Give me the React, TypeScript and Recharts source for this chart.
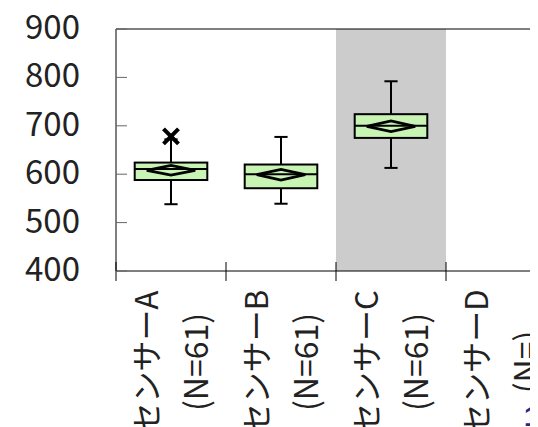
import React from 'react';
import { ComposedChart, Bar, Scatter, XAxis, YAxis, ReferenceArea, ReferenceLine } from 'recharts';

const categories = ['センサーA', 'センサーB', 'センサーC', 'センサーD'];
const sampleCounts = ['61', '61', '61', ''];
const whiskerLow = [538, 539, 613, null];
const q1Values = [588, 571, 675, null];
const medianValues = [611, 600, 700, null];
const q3Values = [624, 620, 724, null];
const whiskerHigh = [672, 677, 792, null];
const meanValues = [608, 599, 699, null];
const meanCILow = [598, 588, 688, null];
const meanCIHigh = [618, 610, 710, null];
const outlierValues = [678, null, null, null];
const yTicks = [400, 500, 600, 700, 800, 900];
const highlightCategory = 'センサーC';
const pageNumber = '1';

const FONT = "'Noto Sans CJK JP', 'Noto Sans', sans-serif";
const BOX_FILL = '#c9f5b4';

const data = categories.map((c, i) => ({
  name: c,
  n: sampleCounts[i],
  range: whiskerLow[i] == null ? null : [whiskerLow[i], whiskerHigh[i]],
  lo: whiskerLow[i],
  q1: q1Values[i],
  med: medianValues[i],
  q3: q3Values[i],
  hi: whiskerHigh[i],
  mean: meanValues[i],
  ciLo: meanCILow[i],
  ciHi: meanCIHigh[i],
  outlier: outlierValues[i],
}));

const BoxShape = (props: any) => {
  const { x, y, width, height, payload } = props;
  if (!payload || payload.lo == null || !isFinite(y) || !isFinite(height)) return null;
  const top = Math.min(y, y + height);
  const bottom = Math.max(y, y + height);
  const { lo, hi } = payload;
  const toY = (v: number) => bottom - ((v - lo) / (hi - lo)) * (bottom - top);
  const cx = x + width / 2;
  const boxHalf = width * 0.33;
  const capHalf = width * 0.06;
  const diaHalf = width * 0.22;
  const yq1 = toY(payload.q1);
  const yq3 = toY(payload.q3);
  const ymed = toY(payload.med);
  const ymean = toY(payload.mean);
  const yciLo = toY(payload.ciLo);
  const yciHi = toY(payload.ciHi);
  const ylo = toY(lo);
  const yhi = toY(hi);
  return (
    <g>
      <line x1={cx} x2={cx} y1={yhi} y2={yq3} stroke="#000" strokeWidth={2} />
      <line x1={cx} x2={cx} y1={yq1} y2={ylo} stroke="#000" strokeWidth={2} />
      <line x1={cx - capHalf} x2={cx + capHalf} y1={yhi} y2={yhi} stroke="#000" strokeWidth={2} />
      <line x1={cx - capHalf} x2={cx + capHalf} y1={ylo} y2={ylo} stroke="#000" strokeWidth={2} />
      <rect x={cx - boxHalf} y={yq3} width={boxHalf * 2} height={yq1 - yq3} fill={BOX_FILL} stroke="#000" strokeWidth={2} />
      <line x1={cx - boxHalf} x2={cx + boxHalf} y1={ymed} y2={ymed} stroke="#000" strokeWidth={2} />
      <polygon
        points={`${cx - diaHalf},${ymean} ${cx},${yciHi} ${cx + diaHalf},${ymean} ${cx},${yciLo}`}
        fill="none"
        stroke="#000"
        strokeWidth={2.8}
        strokeLinejoin="miter"
      />
    </g>
  );
};

const CrossShape = (props: any) => {
  const { cx, cy, payload } = props;
  if (!payload || payload.outlier == null || !isFinite(cy)) return null;
  const s = 7.5;
  return (
    <g>
      <line x1={cx - s} x2={cx + s} y1={cy - s} y2={cy + s} stroke="#000" strokeWidth={4} />
      <line x1={cx - s} x2={cx + s} y1={cy + s} y2={cy - s} stroke="#000" strokeWidth={4} />
    </g>
  );
};

const XTick = (props: any) => {
  const { x, y, payload, index, width, visibleTicksCount } = props;
  const half = payload && payload.offset != null ? payload.offset : width / visibleTicksCount / 2;
  const bx = x - half;
  const n = data[index] ? data[index].n : '';
  return (
    <g>
      <line x1={bx} x2={bx} y1={y - 9} y2={y + 10} stroke="#000" strokeWidth={1} />
      <g transform={`translate(${x},${y + 91}) rotate(-90)`}>
        <text x={0} y={-27} textAnchor="middle" dominantBaseline="central" fontSize={31} fontFamily={FONT} fill="#222">
          {payload.value}
        </text>
        <text x={0} y={23} textAnchor="middle" dominantBaseline="central" fontSize={32} fontFamily={FONT} fill="#222">
          {`(N=${n})`}
        </text>
      </g>
    </g>
  );
};

const YTick = (props: any) => {
  const { x, y, payload } = props;
  return (
    <g>
      <line x1={x + 36} x2={x + 47} y1={y} y2={y} stroke="#666" strokeWidth={1} />
      <text x={x} y={y - 4} textAnchor="end" dominantBaseline="central" fontSize={33} fontFamily={FONT} fill="#222">
        {payload.value}
      </text>
    </g>
  );
};

export default function App() {
  return (
    <div style={{ width: 530, height: 419, overflow: 'hidden', position: 'relative' }}>
      <ComposedChart
        width={560}
        height={419}
        data={data}
        margin={{ top: 21, right: 12, bottom: 0, left: 0 }}
        barCategoryGap={0}
        barGap={0}
      >
        <XAxis
          dataKey="name"
          type="category"
          interval={0}
          tickLine={false}
          tickSize={0}
          tickMargin={0}
          axisLine={{ stroke: '#000', strokeWidth: 1 }}
          height={156}
          tick={<XTick />}
        />
        <YAxis
          type="number"
          domain={[400, 900]}
          ticks={yTicks}
          interval={0}
          width={108}
          tickLine={false}
          tickSize={0}
          tickMargin={36}
          axisLine={{ stroke: '#000', strokeWidth: 1 }}
          tick={<YTick />}
        />
        <ReferenceArea
          x1={highlightCategory}
          x2={highlightCategory}
          y1={400}
          y2={900}
          fill="#cccccc"
          fillOpacity={1}
          stroke="none"
        />
        <ReferenceLine y={900} stroke="#000" strokeWidth={1} />
        <Bar dataKey="range" shape={<BoxShape />} isAnimationActive={false} />
        <Scatter dataKey="outlier" shape={<CrossShape />} isAnimationActive={false} />
      </ComposedChart>
      <div
        style={{
          position: 'absolute',
          left: 516,
          top: 396,
          fontSize: 27,
          lineHeight: '27px',
          fontWeight: 'bold',
          fontFamily: "'Liberation Sans', Arial, sans-serif",
          color: '#1f2a8c',
        }}
      >
        {pageNumber}
      </div>
    </div>
  );
}
